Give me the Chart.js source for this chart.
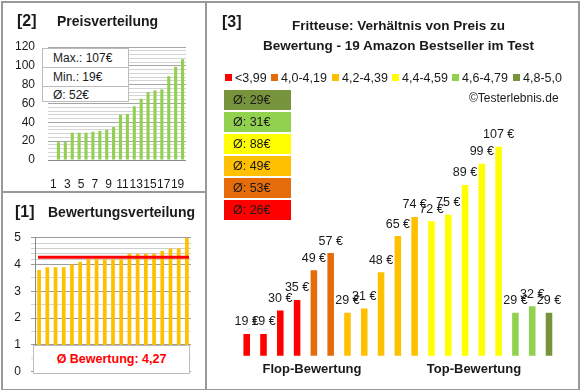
<!DOCTYPE html>
<html><head><meta charset="utf-8">
<script src="https://cdn.jsdelivr.net/npm/chart.js@4.4.1/dist/chart.umd.min.js"></script>
<style>
html,body{margin:0;padding:0;background:#fff;}
#wrap{position:relative;width:580px;height:390px;overflow:hidden;font-family:"Liberation Sans",Arial,sans-serif;color:#1a1a1a;}
.a{position:absolute;white-space:nowrap;}
canvas{position:absolute;}
.b{font-weight:bold;}
.avg{position:absolute;left:224px;width:67px;height:20px;line-height:20px;font-size:12.5px;padding-left:9px;box-sizing:border-box;color:#1a1a1a;}
.leg{position:absolute;top:71px;height:14px;line-height:14px;font-size:12.5px;white-space:nowrap;}
.leg i{display:inline-block;width:7px;height:7px;margin-right:3px;vertical-align:1px;}
</style></head><body><div id="wrap">
<canvas id="cA" width="205" height="192" style="left:0;top:0"></canvas>
<canvas id="cB" width="205" height="196" style="left:0;top:193px"></canvas>
<canvas id="cC" width="370" height="268" style="left:207px;top:120px"></canvas>

<div class="a" style="left:1px;top:1px;width:575px;height:386px;border:2px solid #999;"></div>
<div class="a" style="left:205px;top:1px;width:2px;height:388px;background:#999;"></div>
<div class="a" style="left:1px;top:191px;width:205px;height:2px;background:#999;"></div>

<div class="a b" style="left:17px;top:11px;font-size:16px;line-height:20px;">[2]</div>
<div class="a b" style="left:57px;top:12px;font-size:14px;line-height:18px;">Preisverteilung</div>
<div class="a b" style="left:15px;top:202px;font-size:16px;line-height:20px;">[1]</div>
<div class="a b" style="left:48px;top:203px;font-size:14px;line-height:18px;">Bewertungsverteilung</div>
<div class="a b" style="left:222px;top:12px;font-size:16px;line-height:20px;">[3]</div>
<div class="a b" style="left:250px;width:297px;text-align:center;top:17px;font-size:13.5px;line-height:18px;">Fritteuse: Verhältnis von Preis zu</div>
<div class="a b" style="left:250px;width:297px;text-align:center;top:37px;font-size:13.5px;line-height:18px;">Bewertung - 19 Amazon Bestseller im Test</div>

<div id="legend"></div>
<div class="a" style="left:469px;top:91px;font-size:12px;line-height:14px;">©Testerlebnis.de</div>
<div id="avgs"></div>

<div class="a b" style="left:250px;width:124px;text-align:center;top:360px;font-size:13px;line-height:18px;">Flop-Bewertung</div>
<div class="a b" style="left:412px;width:124px;text-align:center;top:360px;font-size:13px;line-height:18px;">Top-Bewertung</div>

<div class="a" style="left:42px;top:48px;width:87px;height:54px;border:1px solid #bcbcbc;background:#fff;box-sizing:border-box;font-size:12px;">
  <div id="stMax" style="height:18px;line-height:18px;padding-left:10px;border-bottom:1px solid #bcbcbc;"></div>
  <div id="stMin" style="height:18px;line-height:18px;padding-left:10px;border-bottom:1px solid #bcbcbc;"></div>
  <div id="stAvg" style="height:16px;line-height:16px;padding-left:10px;"></div>
</div>
<div id="rateBox" class="a b" style="left:33px;top:345px;width:157px;height:29px;border:1px solid #bcbcbc;background:#fff;box-sizing:border-box;color:#ff0000;font-size:12.5px;line-height:27px;text-align:center;"></div>
</div>
<script>
// ---------- data ----------
const categories = ['1','2','3','4','5','6','7','8','9','10','11','12','13','14','15','16','17','18','19'];
const prices = [19,19,30,35,49,57,29,31,48,65,74,72,75,89,99,107,29,32,29];
const priceGroup = [0,0,0,0,1,1,2,2,2,2,2,3,3,3,3,3,4,4,5];
const sortedPrices = [19,19,29,29,29,30,31,32,35,48,49,57,65,72,74,75,89,99,107];
const ratings = [3.8,3.9,3.9,3.9,4.0,4.1,4.2,4.2,4.2,4.2,4.2,4.4,4.4,4.4,4.4,4.5,4.6,4.6,5.0];
const avgRating = 4.27;
const groupLabels = ['<3,99','4,0-4,19','4,2-4,39','4,4-4,59','4,6-4,79','4,8-5,0'];
const groupColors = ['#FF0000','#E46C0A','#FFC000','#FFFF00','#92D050','#77933C'];
const groupAvgs = [26,53,49,88,31,29];
const priceMax = 107, priceMin = 19, priceAvg = 52;

// ---------- html texts ----------
const legX = [225,271,332,392,452,513];
document.getElementById('legend').innerHTML = groupLabels.map((l,i)=>
  `<div class="leg" style="left:${legX[i]}px"><i style="background:${groupColors[i]}"></i>${l}</div>`).join('');
const avgTop = [90,112,134,156,178,200];
let ah='';
for(let k=0;k<6;k++){ const g=5-k; ah+=`<div class="avg" style="top:${avgTop[k]}px;background:${groupColors[g]}">Ø: ${groupAvgs[g]}€</div>`; }
document.getElementById('avgs').innerHTML = ah;
document.getElementById('stMax').textContent = 'Max.: '+priceMax+'€';
document.getElementById('stMin').textContent = 'Min.: '+priceMin+'€';
document.getElementById('stAvg').textContent = 'Ø: '+priceAvg+'€';
document.getElementById('rateBox').textContent = 'Ø Bewertung: '+avgRating.toFixed(2).replace('.',',');

Chart.defaults.font.family = '"Liberation Sans", Arial, sans-serif';
Chart.defaults.color = '#1a1a1a';
const noPlug = {legend:{display:false},tooltip:{enabled:false}};

// ---------- [2] Preisverteilung ----------
new Chart(document.getElementById('cA'), {
  type:'bar',
  data:{labels:categories, datasets:[{data:sortedPrices, backgroundColor:'#92D050', barPercentage:0.45, categoryPercentage:1}]},
  options:{responsive:false, animation:false,
    layout:{padding:{top:47,right:19,left:0,bottom:0}},
    plugins:noPlug,
    scales:{
      x:{grid:{display:false}, border:{display:false},
         ticks:{autoSkip:false, maxRotation:0, padding:9, labelOffset:-5, font:{size:12}, color:'#1a1a1a',
                callback:(v,i)=> i%2===0 ? categories[i] : ''},
         afterFit:s=>{s.height=32;}},
      y:{min:0, max:120,
         ticks:{stepSize:4, autoSkip:false, padding:13, font:{size:12}, color:'#1a1a1a',
                callback:v=> v%20===0 ? v : ''},
         grid:{tickLength:7, color:c=> c.tick.value===0 ? '#8a8a8a' : (c.tick.value%20===0 ? '#a6a6a6' : '#d4d4d4')},
         border:{display:false},
         afterFit:s=>{s.width=55;}}
    }}
});

// ---------- [1] Bewertungsverteilung ----------
const avgLine = {id:'avgLine', afterDatasetsDraw(chart){
  const y = chart.scales.y.getPixelForValue(avgRating);
  const a = chart.chartArea, c = chart.ctx;
  c.save(); c.strokeStyle='#FF0000'; c.lineWidth=3;
  c.beginPath(); c.moveTo(a.left+3,y); c.lineTo(a.right-2,y); c.stroke(); c.restore();
}};
const near = (v,s)=> Math.abs(v/s - Math.round(v/s)) < 1e-6;
new Chart(document.getElementById('cB'), {
  type:'bar',
  data:{labels:categories, datasets:[{data:ratings, backgroundColor:'#FFC000', barPercentage:0.45, categoryPercentage:1}]},
  options:{responsive:false, animation:false,
    layout:{padding:{top:44.7,right:14,left:0,bottom:16}},
    plugins:noPlug,
    scales:{
      x:{display:false},
      y:{min:0, max:5,
         ticks:{stepSize:0.1, autoSkip:false, padding:10, font:{size:12}, color:'#1a1a1a',
                callback:v=> near(v,1) ? Math.round(v) : ''},
         grid:{tickLength:4, color:c=>{ const v=c.tick.value;
                 if(near(v,1)) return '#9a9a9a';
                 if(v>4 && near(v,0.2)) return '#cfcfcf';
                 if(v<4 && near(v,0.5)) return '#d6d6d6';
                 return 'rgba(0,0,0,0)'; }},
         border:{display:true, color:'#8a8a8a'},
         afterFit:s=>{s.width=35;}}
    }},
  plugins:[avgLine]
});

// ---------- [3] Preis zu Bewertung ----------
const valLabels = {id:'valLabels', afterDatasetsDraw(chart){
  const c = chart.ctx, meta = chart.getDatasetMeta(0);
  c.save(); c.font='12.5px "Liberation Sans", Arial, sans-serif'; c.fillStyle='#1a1a1a';
  c.textAlign='center'; c.textBaseline='middle';
  meta.data.forEach((bar,i)=>{ c.fillText(prices[i]+' €', bar.x, bar.y-12); });
  c.restore();
}};
new Chart(document.getElementById('cC'), {
  type:'bar',
  data:{labels:categories, datasets:[{data:prices, backgroundColor:priceGroup.map(g=>groupColors[g]), barPercentage:0.39, categoryPercentage:1}]},
  options:{responsive:false, animation:false,
    layout:{padding:{top:20.3,right:19.6,left:31.3,bottom:32.3}},
    plugins:noPlug,
    scales:{x:{display:false}, y:{display:false, min:8.8, max:110}}},
  plugins:[valLabels]
});
</script>
</body></html>
